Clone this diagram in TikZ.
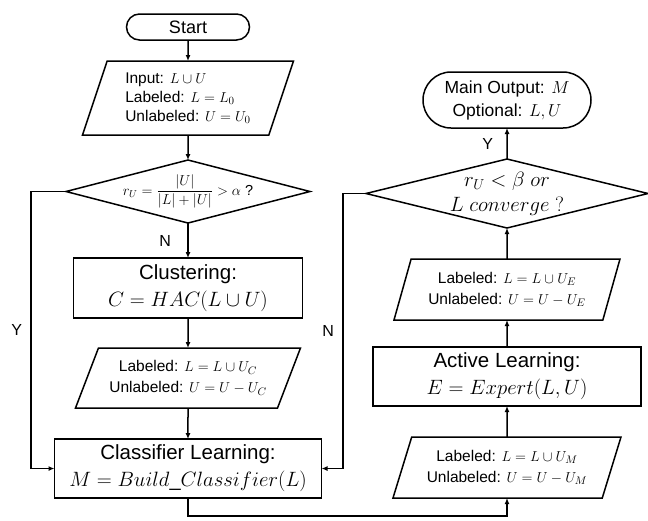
\documentclass[tikz,border=0pt]{standalone}
\usepackage{fontspec}
\setmainfont{Liberation Sans}
\usepackage{amsmath}
\usetikzlibrary{arrows.meta,positioning,shapes.geometric,shapes.misc}

\begin{document}
\begin{tikzpicture}[
  x=1pt, y=-1pt,
  line width=1.5pt,
  every node/.style={outer sep=0pt},
  term/.style={draw, rounded rectangle, align=center, inner sep=1pt},
  proc/.style={draw, align=center, inner sep=1pt, font={\fontsize{20.5}{27}\selectfont}},
  io/.style={draw, trapezium, trapezium stretches body, trapezium left angle=65, trapezium right angle=115, align=center, inner sep=1pt, font={\fontsize{15.5}{21}\selectfont}},
  test/.style={draw, diamond, inner sep=0pt},
  lbl/.style={inner sep=0pt, font={\fontsize{16}{18}\selectfont}},
  arr/.style={-{Latex[length=6pt,width=5pt]}}
]
\useasboundingbox (0,0) rectangle (648,520);
\node[term, minimum width=125pt, minimum height=26pt, font={\fontsize{18}{21}\selectfont}] (start) at (188,27) {Start};
\node[io, align=left, minimum width=211pt, minimum height=74pt, below=21pt of start, font={\fontsize{15.5}{19}\selectfont}] (input) {Input: $L\cup U$\\Labeled: $L=L_0$\\Unlabeled: $U=U_0$};
\node[test, minimum width=244pt, minimum height=63pt, below=25pt of input, label={[font={\fontsize{14.5}{17}\selectfont}]center:$r_U=\dfrac{|U|}{|L|+|U|}>\alpha$ ?}] (ratio) {};
\node[proc, minimum width=229pt, minimum height=60pt, below=35pt of ratio] (cluster) {Clustering:\\{\fontsize{19.5}{22}\selectfont$C=HAC(L\cup U)$}};
\node[io, trapezium left angle=58, trapezium right angle=122, minimum width=225pt, minimum height=60pt, below=30pt of cluster] (updC) {Labeled: $L=L\cup U_C$\\Unlabeled: $U=U-U_C$};
\node[proc, minimum width=267pt, minimum height=59pt, below=31pt of updC] (classify) {Classifier Learning:\\{\fontsize{20}{22}\selectfont$M=Build\_Classifier(L)$}};

\node[term, minimum width=170pt, minimum height=56pt, font={\fontsize{17.5}{23}\selectfont}] (output) at (507,100) {Main Output: $M$\\Optional: $L,U$};
\node[test, minimum width=282pt, minimum height=69pt, below=31pt of output, label={[align=center, font={\fontsize{20}{25}\selectfont}]center:$r_U<\beta\ or$\\$L\ converge\ ?$}] (stop) {};
\node[io, minimum width=226pt, minimum height=61pt, below=31pt of stop] (updE) {Labeled: $L=L\cup U_E$\\Unlabeled: $U=U-U_E$};
\node[proc, minimum width=268pt, minimum height=59pt, below=27pt of updE] (active) {Active Learning:\\{\fontsize{20}{22}\selectfont$E=Expert(L,U)$}};
\node[io, trapezium left angle=63, trapezium right angle=117, minimum width=228pt, minimum height=61pt, below=31pt of active] (updM) {Labeled: $L=L\cup U_M$\\Unlabeled: $U=U-U_M$};

\draw[arr] (start) -- (input);
\draw[arr] (input) -- (ratio);
\draw[arr] (ratio) -- node[lbl, left=17pt] {N} (cluster);
\draw[arr] (cluster) -- (updC);
\draw[arr] (updC) -- (classify);
\draw[arr] (ratio.west) -- ++(-35,0) |- node[lbl, pos=0.25, left=9pt] {Y} (classify.west);
\draw[arr] (classify.south) -- ++(0,18) -| (updM);
\draw[arr] (updM) -- (active);
\draw[arr] (active) -- (updE);
\draw[arr] (updE) -- (stop);
\draw[arr] (stop) -- node[lbl, left=14pt] {Y} (output);
\draw[arr] (stop.west) -- ++(-23,0) |- node[lbl, pos=0.25, left=9pt] {N} (classify.east);
\end{tikzpicture}
\end{document}
